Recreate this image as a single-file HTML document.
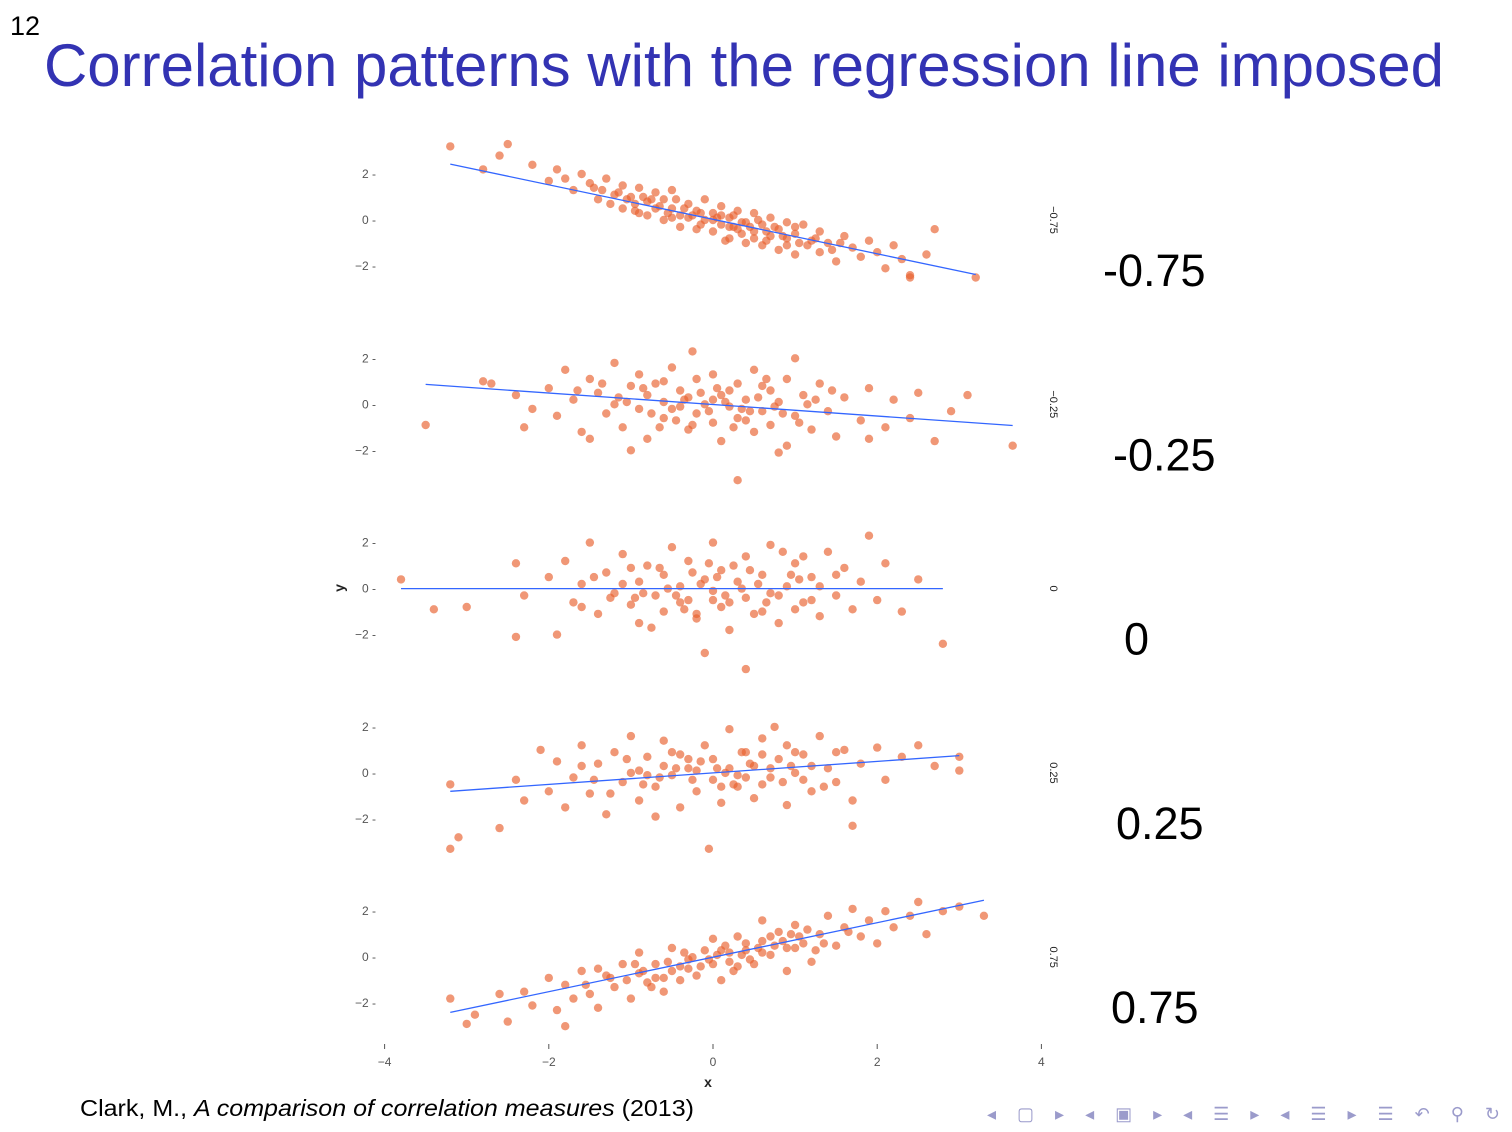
<!DOCTYPE html>
<html><head><meta charset="utf-8"><style>
html,body{margin:0;padding:0;background:#fff;width:1512px;height:1132px;overflow:hidden;font-family:"Liberation Sans",sans-serif}
</style></head><body>
<svg width="1512" height="1132" xmlns="http://www.w3.org/2000/svg">
<text x="10" y="35" font-size="27" fill="#000">12</text>
<text x="44" y="86" font-size="60" fill="#3333b3" textLength="1400" lengthAdjust="spacingAndGlyphs">Correlation patterns with the regression line imposed</text>
<g id="chart"></g>
<text x="80" y="1116" font-size="23" fill="#000" textLength="614" lengthAdjust="spacingAndGlyphs">Clark, M., <tspan font-style="italic">A comparison of correlation measures</tspan> (2013)</text>
<text x="987" y="1120" font-size="18" fill="#9b9bcb" textLength="513" lengthAdjust="spacing">◂ ▢ ▸ ◂ ▣ ▸ ◂ ☰ ▸ ◂ ☰ ▸ ☰ ↶ ⚲ ↻</text>
</svg>
<script>
const panelLabels=["−0.75","−0.25","0","0.25","0.75"];
const bigLabels=["-0.75","-0.25","0","0.25","0.75"];
const xTicks=[-4,-2,0,2,4];
const yTicks=[2,0,-2];
const lineX0=[-3.2,-3.5,-3.8,-3.2,-3.2];
const lineX1=[3.2,3.65,2.8,3.0,3.3];
const lineSlope=[-0.75,-0.25,0,0.25,0.75];
const lineIntercept=[0.03,-0.01,0,0,0.0];
const p1=[[-3.2,3.2],[-2.5,3.3],[-2.6,2.8],[-2.8,2.2],[-2.2,2.4],[-2.0,1.7],[-1.9,2.2],[-1.7,1.3],[-1.6,2.0],[-1.5,1.6],[-1.4,0.9],[-1.3,1.8],[-1.2,1.1],[-1.1,0.5],[-1.1,1.5],[-1.0,1.0],[-0.9,0.3],[-0.9,1.4],[-0.8,0.8],[-0.8,0.2],[-0.7,1.2],[-0.7,0.5],[-0.6,0.0],[-0.6,0.9],[-0.5,0.5],[-0.5,1.3],[-0.4,0.2],[-0.4,-0.3],[-0.3,0.7],[-0.3,0.1],[-0.2,0.4],[-0.2,-0.4],[-0.1,0.9],[-0.1,0.0],[0,0.3],[0,-0.5],[0.1,0.6],[0.1,-0.2],[0.2,0.1],[0.2,-0.8],[0.3,0.4],[0.3,-0.4],[0.4,-0.1],[0.4,-1.0],[0.5,0.3],[0.5,-0.5],[0.6,-0.2],[0.6,-1.1],[0.7,0.1],[0.7,-0.7],[0.8,-0.4],[0.8,-1.3],[0.9,-0.1],[0.9,-0.8],[1.0,-0.6],[1.0,-1.5],[1.1,-0.2],[1.2,-0.9],[1.3,-1.4],[1.3,-0.5],[1.4,-1.0],[1.5,-1.8],[1.6,-0.7],[1.7,-1.2],[1.8,-1.6],[1.9,-0.9],[2.0,-1.4],[2.1,-2.1],[2.2,-1.1],[2.3,-1.7],[2.4,-2.4],[2.6,-1.5],[2.7,-0.4],[2.4,-2.5],[3.2,-2.5],[-1.8,1.8],[-0.95,0.7],[-0.45,0.9],[0.15,-0.9],[0.55,0.0],[1.15,-1.1],[-1.35,1.3],[-0.15,0.3],[0.35,-0.6],[-1.05,0.9],[-0.65,0.6],[-0.25,0.2],[0.05,0.1],[0.25,-0.3],[0.65,-0.5],[0.85,-0.7],[-0.85,1.0],[0.45,-0.3],[-0.55,0.3],[1.25,-0.8],[-1.25,0.7],[-1.15,1.2],[-0.75,0.9],[-0.35,0.5],[0.0,0.0],[0.2,-0.3],[0.5,-0.8],[0.75,-0.3],[1.05,-1.0],[1.45,-1.3],[-0.95,0.4],[-0.5,0.1],[0.1,0.2],[0.35,-0.1],[0.65,-0.9],[1.0,-0.3],[1.55,-1.0],[-1.45,1.4],[-0.15,-0.2],[0.25,0.2],[0.9,-1.1]];
const p2=[[-3.5,-0.9],[-2.8,1.0],[-2.7,0.9],[-2.4,0.4],[-2.3,-1.0],[-2.0,0.7],[-1.9,-0.5],[-1.8,1.5],[-1.7,0.2],[-1.6,-1.2],[-1.5,1.1],[-1.4,0.5],[-1.3,-0.4],[-1.2,1.8],[-1.2,0.0],[-1.1,-1.0],[-1.0,0.8],[-0.9,-0.2],[-0.9,1.3],[-0.8,0.4],[-0.8,-1.5],[-0.7,0.9],[-0.6,-0.6],[-0.6,0.1],[-0.5,1.6],[-0.5,-0.2],[-0.4,0.6],[-0.3,-1.1],[-0.3,0.3],[-0.2,1.1],[-0.2,-0.4],[-0.1,0.0],[0,1.3],[0,-0.8],[0.1,0.4],[0.1,-1.6],[0.2,-0.1],[0.3,0.9],[0.3,-0.6],[0.4,0.2],[0.5,-1.2],[0.5,1.5],[0.6,-0.3],[0.7,0.6],[0.7,-0.9],[0.8,0.1],[0.9,-1.8],[0.9,1.1],[1.0,-0.5],[1.1,0.4],[1.2,-1.1],[1.3,0.9],[1.4,-0.3],[1.5,-1.4],[1.6,0.3],[1.8,-0.7],[1.9,0.7],[2.1,-1.0],[2.2,0.2],[2.4,-0.6],[2.5,0.5],[2.7,-1.6],[2.9,-0.3],[3.1,0.4],[3.65,-1.8],[0.3,-3.3],[-1.5,-1.5],[-0.25,2.3],[0.8,-2.1],[1.9,-1.5],[-2.2,-0.2],[1.0,2.0],[-1.0,-2.0],[-0.6,1.0],[0.2,0.6],[0.6,0.8],[-0.05,-0.3],[0.45,-0.3],[-0.35,0.2],[0.15,0.1],[-0.75,-0.4],[0.35,-0.2],[1.15,0.0],[-1.15,0.3],[-0.45,-0.7],[-0.85,0.7],[-0.4,-0.1],[0.05,0.7],[0.25,-1.0],[0.55,0.3],[0.85,-0.4],[1.25,0.2],[-1.35,0.9],[-0.65,-1.0],[-0.15,0.5],[0.4,-0.7],[0.75,-0.1],[1.05,-0.8],[-1.05,0.1],[-0.25,-0.9],[0.0,0.2],[1.45,0.6],[-1.65,0.6],[0.65,1.1]];
const p3=[[-3.8,0.4],[-3.4,-0.9],[-3.0,-0.8],[-2.4,1.1],[-2.3,-0.3],[-2.0,0.5],[-1.9,-2.0],[-1.8,1.2],[-1.7,-0.6],[-1.6,0.2],[-1.5,2.0],[-1.4,-1.1],[-1.3,0.7],[-1.2,-0.2],[-1.1,1.5],[-1.0,-0.7],[-0.9,0.3],[-0.9,-1.5],[-0.8,1.0],[-0.7,-0.3],[-0.6,0.6],[-0.6,-1.0],[-0.5,1.8],[-0.4,0.1],[-0.3,-0.5],[-0.3,1.2],[-0.2,-1.3],[-0.1,0.4],[0,-0.1],[0,2.0],[0.1,0.8],[0.1,-0.8],[0.2,-1.8],[0.3,0.3],[0.4,-0.4],[0.4,1.4],[0.5,-1.1],[0.6,0.6],[0.7,-0.2],[0.7,1.9],[0.8,-1.5],[0.9,0.1],[1.0,1.1],[1.1,-0.6],[1.2,0.5],[1.3,-1.2],[1.4,1.6],[1.5,-0.3],[1.6,0.9],[1.7,-0.9],[1.8,0.3],[1.9,2.3],[2.0,-0.5],[2.1,1.1],[2.3,-1.0],[2.5,0.4],[2.8,-2.4],[0.4,-3.5],[-2.4,-2.1],[-0.2,-1.1],[0.55,0.2],[-0.45,-0.3],[0.25,1.0],[-1.0,0.9],[1.0,-0.9],[-0.75,-1.7],[0.85,1.6],[-1.25,-0.4],[1.3,0.1],[-0.1,-2.8],[-0.15,0.2],[0.15,-0.3],[-0.55,0.0],[0.65,-0.6],[-0.85,-0.2],[1.05,0.4],[0.05,0.5],[-0.35,-0.9],[-1.45,0.5],[-0.95,-0.4],[-0.65,0.9],[-0.25,0.7],[0.2,-0.6],[0.45,0.8],[0.8,-0.3],[1.2,-0.5],[-1.1,0.2],[-0.4,-0.6],[0.0,-0.5],[0.35,0.0],[0.95,0.6],[1.5,0.6],[-1.6,-0.8],[0.6,-1.0],[-0.05,1.1],[1.1,1.4]];
const p4=[[-3.2,-3.3],[-3.1,-2.8],[-3.2,-0.5],[-2.6,-2.4],[-2.4,-0.3],[-2.3,-1.2],[-2.1,1.0],[-2.0,-0.8],[-1.9,0.5],[-1.8,-1.5],[-1.7,-0.2],[-1.6,1.2],[-1.5,-0.9],[-1.4,0.4],[-1.3,-1.8],[-1.2,0.9],[-1.1,-0.4],[-1.0,1.6],[-0.9,0.1],[-0.9,-1.2],[-0.8,0.7],[-0.7,-0.6],[-0.6,1.4],[-0.5,-0.1],[-0.4,-1.5],[-0.4,0.8],[-0.3,0.2],[-0.2,-0.8],[-0.1,1.2],[0,-0.3],[0,0.6],[0.1,-1.3],[0.2,0.2],[0.2,1.9],[0.3,-0.6],[0.4,0.9],[0.5,-1.1],[0.5,0.3],[0.6,1.5],[0.7,-0.2],[0.8,0.6],[0.9,-1.4],[0.9,1.2],[1.0,0.0],[1.1,0.8],[1.2,-0.8],[1.3,1.6],[1.4,0.2],[1.5,-0.4],[1.6,1.0],[1.7,-1.2],[1.8,0.4],[2.0,1.1],[2.1,-0.3],[2.3,0.7],[2.5,1.2],[2.7,0.3],[3.0,0.1],[3.0,0.7],[-0.05,-3.3],[1.7,-2.3],[-0.7,-1.9],[0.6,-0.5],[-0.15,0.5],[0.35,0.9],[-1.0,0.0],[1.1,-0.3],[0.75,2.0],[-0.6,0.3],[1.5,0.9],[-0.25,-0.3],[0.15,0.0],[0.45,0.4],[-0.45,0.2],[0.95,0.3],[-0.85,-0.5],[0.25,-0.5],[-1.45,-0.3],[-1.05,0.6],[-0.65,-0.2],[-0.3,0.6],[0.05,0.2],[0.3,-0.1],[0.6,0.8],[0.85,-0.4],[1.2,0.3],[-1.25,-0.9],[-0.5,0.9],[0.1,-0.6],[0.7,0.2],[1.0,0.9],[-0.8,-0.1],[0.4,-0.2],[-0.2,0.1],[1.35,-0.6],[-1.6,0.3]];
const p5=[[-3.2,-1.8],[-3.0,-2.9],[-2.9,-2.5],[-2.6,-1.6],[-2.5,-2.8],[-2.3,-1.5],[-2.2,-2.1],[-2.0,-0.9],[-1.9,-2.3],[-1.8,-1.2],[-1.7,-1.8],[-1.6,-0.6],[-1.5,-1.6],[-1.4,-2.2],[-1.3,-0.8],[-1.2,-1.3],[-1.1,-0.3],[-1.0,-1.8],[-0.9,-0.7],[-0.9,0.2],[-0.8,-1.1],[-0.7,-0.3],[-0.6,-1.5],[-0.5,-0.6],[-0.5,0.4],[-0.4,-1.0],[-0.3,-0.1],[-0.2,-0.8],[-0.1,0.3],[0,-0.3],[0,0.8],[0.1,-1.0],[0.2,0.2],[0.3,-0.4],[0.3,0.9],[0.4,0.3],[0.5,-0.3],[0.6,0.7],[0.6,1.6],[0.7,0.1],[0.8,1.1],[0.9,0.4],[0.9,-0.6],[1.0,1.4],[1.1,0.6],[1.2,-0.2],[1.3,1.0],[1.4,1.8],[1.5,0.5],[1.6,1.3],[1.7,2.1],[1.8,0.9],[1.9,1.6],[2.0,0.6],[2.1,2.0],[2.2,1.3],[2.4,1.8],[2.5,2.4],[2.6,1.0],[2.8,2.0],[3.0,2.2],[3.3,1.8],[-1.8,-3.0],[-0.7,-0.9],[-0.25,0.0],[0.15,0.5],[0.45,-0.1],[0.75,0.5],[1.05,0.9],[-1.05,-1.0],[-0.4,-0.4],[0.25,-0.6],[-1.4,-0.5],[1.25,0.3],[-0.15,-0.4],[0.05,0.1],[0.55,0.4],[-0.55,-0.2],[0.85,0.7],[-0.85,-0.6],[0.35,0.1],[-1.25,-0.9],[-0.95,-0.3],[-0.6,-0.9],[-0.3,-0.5],[0.1,0.3],[0.4,0.6],[0.7,0.9],[1.0,0.4],[1.35,0.6],[-1.55,-1.2],[-0.05,-0.1],[0.2,-0.2],[0.95,1.0],[1.65,1.1],[-0.75,-1.3],[0.6,0.2],[1.15,1.2],[-0.35,0.2]];
const panels=[p1,p2,p3,p4,p5];

const NS="http://www.w3.org/2000/svg";
const g=document.getElementById('chart');
const sx=v=>713+v*82.1;
const panelZero=i=>220+i*184.3;
const sy=(i,v)=>panelZero(i)-v*23;
function mk(tag,attrs){const e=document.createElementNS(NS,tag);for(const k in attrs)e.setAttribute(k,attrs[k]);g.appendChild(e);return e;}

panels.forEach((pts,i)=>{
  yTicks.forEach(t=>{
    const tl=mk('text',{x:376,y:sy(i,t)+4,'font-size':12,fill:'#555','text-anchor':'end'});
    tl.textContent=(t<0?'−'+(-t):t)+' -';
    
    
  });
  pts.forEach(p=>{
    const c=mk('circle',{cx:sx(p[0]),cy:sy(i,p[1]),r:4.2,fill:'#e8602c','fill-opacity':0.65});
    
    
  });
  const y0=lineIntercept[i]+lineSlope[i]*lineX0[i], y1=lineIntercept[i]+lineSlope[i]*lineX1[i];
  const ln=mk('line',{x1:sx(lineX0[i]),y1:sy(i,y0),x2:sx(lineX1[i]),y2:sy(i,y1),stroke:'#3366ff','stroke-width':1.3});
  
  
  const sl=mk('text',{x:0,y:0,'font-size':11,fill:'#222',transform:`translate(1050,${panelZero(i)}) rotate(90)`,'text-anchor':'middle'});
  sl.textContent=panelLabels[i];
  
  
  const bl=mk('text',{x:[1103,1113,1124,1116,1111][i],y:panelZero(i)+66,'font-size':45,fill:'#000'});
  bl.textContent=bigLabels[i];
  
  
});
xTicks.forEach(t=>{
  const tm=mk('line',{x1:sx(t),y1:1044,x2:sx(t),y2:1049,stroke:'#555','stroke-width':1});
  
  
  const tl=mk('text',{x:sx(t),y:1066,'font-size':12,fill:'#555','text-anchor':'middle'});
  tl.textContent=t<0?'−'+(-t):t;
  
  
});
const xt=mk('text',{x:708,y:1087,'font-size':14,'font-weight':'bold',fill:'#222','text-anchor':'middle'});
xt.textContent='x';


const yt=mk('text',{x:0,y:0,'font-size':14,'font-weight':'bold',fill:'#222','text-anchor':'middle',transform:'translate(344,588) rotate(-90)'});
yt.textContent='y';


</script>
</body></html>
